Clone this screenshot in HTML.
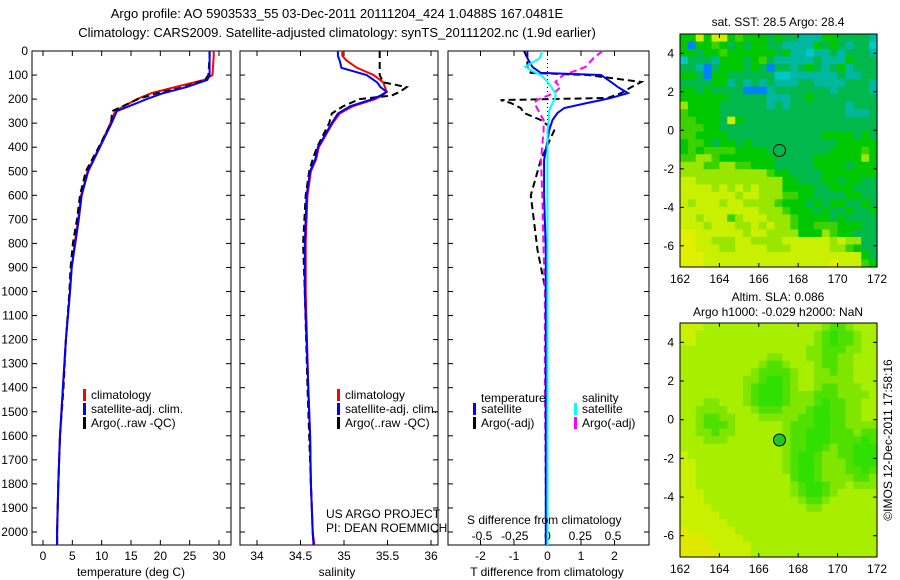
<!DOCTYPE html>
<html><head><meta charset="utf-8"><style>
body{margin:0;background:#fff}
svg{display:block;font-family:"Liberation Sans",sans-serif;font-size:12px}
</style></head><body>
<svg id="c" width="900" height="580" xmlns="http://www.w3.org/2000/svg">
<text x="337" y="18" text-anchor="middle" font-size="13">Argo profile: AO 5903533_55 03-Dec-2011 20111204_424 1.0488S 167.0481E</text>
<text x="337" y="37" text-anchor="middle" font-size="13">Climatology: CARS2009. Satellite-adjusted climatology: synTS_20111202.nc (1.9d earlier)</text>
<g id="g"></g>
</svg>
<script>
// ---- data ----
const tDepth=[0,20,60,100,120,150,175,200,250,300,400,500,600,700,800,900,1000,1200,1400,1600,1800,2000,2054];
const tClim=[29.1,29.1,29.0,28.9,27.5,22.5,18.5,16,12.3,11.5,9.6,7.6,6.5,6.0,5.4,4.9,4.6,3.9,3.4,2.9,2.6,2.4,2.4];
const tSat=[28.4,28.4,28.4,28.4,28.0,24.5,20.5,17.7,12.6,11.7,9.7,7.7,6.6,6.1,5.5,4.9,4.6,3.9,3.4,2.9,2.6,2.4,2.4];
const tArgo=[28.4,28.4,28.3,28.2,27.6,24,19.5,16.2,11.8,11.6,9.5,7.3,6.3,5.8,5.1,4.7,4.5,3.9,3.5,2.9,2.6,2.4,2.4];
const sDepth=[0,20,40,70,100,130,150,170,185,200,230,260,300,350,400,450,500,600,800,1000,1400,1600,1800,2000,2054];
const sClim=[34.98,34.98,35.03,35.15,35.34,35.45,35.47,35.49,35.44,35.36,35.1,34.95,34.87,34.79,34.71,34.68,34.62,34.58,34.56,34.56,34.59,34.61,34.62,34.64,34.66];
const sSat=[34.93,34.93,34.95,34.97,35.26,35.38,35.42,35.49,35.42,35.33,35.07,34.93,34.86,34.78,34.7,34.67,34.61,34.57,34.55,34.55,34.59,34.61,34.62,34.64,34.65];
const sArgo=[35.41,35.41,35.41,35.41,35.41,35.45,35.72,35.64,35.55,35.18,34.99,34.86,34.83,34.76,34.69,34.64,34.6,34.56,34.53,34.55,34.58,34.6,34.62,34.64,34.65];
const dDepth=[0,30,66,91,100,129,150,175,195,204,216,237,258,287,330,453,600,827,1000,1400,2054];
const dTSat=[-0.6,-0.6,-0.45,-0.2,1.6,1.9,2.1,2.4,1.9,1.6,1.2,0.5,0.3,0.15,0.05,-0.1,-0.1,-0.05,-0.05,-0.05,-0.05];
const dTArgo=[-0.7,-0.6,-0.6,-0.5,1.2,2.8,2.5,2.2,1.8,-1.4,-1.1,-0.8,-0.7,-0.2,0.2,-0.2,-0.5,-0.3,-0.05,0.0,0.0];
const dSSat=[-0.04,-0.06,-0.17,-0.09,-0.05,0.0,0.03,0.06,0.06,0.05,0.04,0.02,0.01,0.01,0.0,0.0,0.0,0.0,0.0,0.0,0.0];
const dSArgo=[0.42,0.35,0.29,0.17,0.12,0.06,0.1,0.05,-0.04,-0.08,-0.1,-0.08,-0.06,-0.03,-0.03,-0.05,-0.04,-0.03,-0.02,-0.02,-0.01];
const depthTicks=[0,100,200,300,400,500,600,700,800,900,1000,1100,1200,1300,1400,1500,1600,1700,1800,1900,2000];
const tTicks=[0,5,10,15,20,25,30];
const sTicks=[34,34.5,35,35.5,36];
const sTickLabels=["34","34.5","35","35.5","36"];
const dTTicks=[-2,-1,0,1,2];
const dSTicks=[-0.5,-0.25,0,0.25,0.5];
const dSTickLabels=["-0.5","-0.25","0","0.25","0.5"];
const lonTicks=[162,164,166,168,170,172];
const latTicks=[4,2,0,-2,-4,-6];
const sstGrid=["5585885655545443335544443","5155654545544333354543442","5545565555554533233434443","2444355545643333343335444","4431455545414434543453444","5541554444442233333343344","4444553434343334433334443","5545444411134444444344443","5555554444433344544444444","7555544444434344444443444","6555544444444444444443334","6655548544444444444444444","6665544444444444444444444","6655554444444444445555454","5665455454444444444455555","5656666555544444444555565","6677655555554444455555575","7776677665554444455554555","7777777777765544445555555","8877777777777554445545544","8888787878777555544555444","8888888788777665544445544","8788878877776555454554454","8888888888777655545445445","8878886788877765555454444","8887888778787765566655544","9988888878877775557655444","9988777887777888888787744","9988877888877788888776544","9998888888888888888888854","9998888888888888888988865"];
const slaGrid=["8887777777777777776556777","8877777777777777765455677","8877777777777777765455677","7777777777777777665556677","7777777777766777665566777","7777777777655677765566777","7777777776555567766566777","7777777766544567766666777","7777777765444567765566677","7777777765444566655566667","7776677765444566654556677","7766667776555666544556677","7765566777666665544556677","7765556777777655544556666","7766566777777655444555655","7776667777777655444555545","7777777777777655445655444","8777777777777654456655444","8877777777777654456665444","8877777777777654456665545","8877777777777754456666556","8877777777777765445667666","8887777777777765445677777","8887777777777776556777777","8888777777777777667777777","8888877777777777777777777","8888887777777777777777777","9888888777777777777777777","9998888877777777777777777","9999888887777777777777777","9999988887777777777777777"];
const argoLon=167.05, argoLat=-1.05;

// ---- helpers ----
const NS="http://www.w3.org/2000/svg";const G=document.getElementById('g');
function mk(t,a,p){const e=document.createElementNS(NS,t);for(const k in a)e.setAttribute(k,a[k]);(p||G).appendChild(e);return e;}
const Y0=51,Y1=545,DMAX=(Y1-Y0)/0.2405;
const yD=d=>Y0+d*(Y1-Y0)/DMAX;
const xT=v=>43+v*(219-43)/30;
const xS=v=>257+(v-34)*87;
const xDT=v=>547.5+v*33.5;
const xDS=v=>547.5+v*131;
const panels=[[32,231],[240,438],[448,649]];

panels.forEach((p,i)=>{
 const r=mk('rect',{x:p[0],y:Y0,width:p[1]-p[0],height:Y1-Y0,fill:'#fff',stroke:'#000','stroke-width':1});
 
 
 depthTicks.forEach(d=>{
  mk('line',{x1:p[0],x2:p[0]+5,y1:yD(d),y2:yD(d),stroke:'#000'});
  mk('line',{x1:p[1],x2:p[1]-5,y1:yD(d),y2:yD(d),stroke:'#000'});
 });
});
depthTicks.forEach(d=>{
 const t=mk('text',{x:28,y:yD(d)+4,'text-anchor':'end'});t.textContent=d;
 
 
});
function xticks(arr,fx,labels,y,top,bottom){arr.forEach((v,i)=>{const x=fx(v);
 if(top)mk('line',{x1:x,x2:x,y1:Y0,y2:Y0+5,stroke:'#000'});
 if(bottom)mk('line',{x1:x,x2:x,y1:Y1,y2:Y1-5,stroke:'#000'});
 const t=mk('text',{x:x,y:y,'text-anchor':'middle'});t.textContent=labels?labels[i]:v;
 
 });}
xticks(tTicks,xT,null,560,true,true);
xticks(sTicks,xS,sTickLabels,560,true,true);
xticks(dTTicks,xDT,null,560,true,true);
xticks(dSTicks,xDS,dSTickLabels,540,false,false);
mk('line',{x1:xDT(0),x2:xDT(0),y1:Y0,y2:Y1,stroke:'#000','stroke-dasharray':'1,3'});

function line(xs,ds,fx,col,dash,name){
 const pts=xs.map((v,i)=>fx(v).toFixed(1)+','+yD(ds[i]).toFixed(1)).join(' ');
 const a={points:pts,fill:'none',stroke:col,'stroke-width':2};if(dash)a['stroke-dasharray']=dash;
 const e=mk('polyline',a);
 
 
}
line(tClim,tDepth,xT,'#f00',null,'temp-climatology-line');
line(tArgo,tDepth,xT,'#000','7,4','temp-argo-line');
line(tSat,tDepth,xT,'#00f',null,'temp-satellite-line');
line(sClim,sDepth,xS,'#f00',null,'sal-climatology-line');
line(sArgo,sDepth,xS,'#000','7,4','sal-argo-line');
line(sSat,sDepth,xS,'#00f',null,'sal-satellite-line');
line(dTArgo,dDepth,xDT,'#000','7,4','tdiff-argo-line');
line(dSArgo,dDepth,xDS,'#f0f','7,4','sdiff-argo-line');
line(dTSat,dDepth,xDT,'#00f',null,'tdiff-satellite-line');
line(dSSat,dDepth,xDS,'#0ff',null,'sdiff-satellite-line');

function leg(x,y,col,txt,name){
 mk('rect',{x:x,y:y-9,width:3,height:12,fill:col});
 const t=mk('text',{x:x+8,y:y+1});t.textContent=txt;
 
 
}
leg(83,398,'#f00','climatology','legend-climatology');
leg(83,412,'#00f','satellite-adj. clim.','legend-satellite');
leg(83,426,'#000','Argo(..raw -QC)','legend-argo');
leg(337,398,'#f00','climatology','legend-climatology-2');
leg(337,412,'#00f','satellite-adj. clim.','legend-satellite-2');
leg(337,426,'#000','Argo(..raw -QC)','legend-argo-2');
function txt(x,y,s,name,anchor,extra){const t=mk('text',Object.assign({x:x,y:y,'text-anchor':anchor||'start'},extra||{}));t.textContent=s;
 
 return t;}
txt(481,402,'temperature','legend-temperature-heading');
txt(582,402,'salinity','legend-salinity-heading');
leg(473,412,'#00f','satellite','legend-t-satellite');
leg(473,426,'#000','Argo(-adj)','legend-t-argo');
leg(574,412,'#0ff','satellite','legend-s-satellite');
leg(574,426,'#f0f','Argo(-adj)','legend-s-argo');
txt(326,518,'US ARGO PROJECT','credit-project');
txt(326,532,'PI: DEAN ROEMMICH','credit-pi');
txt(467,524,'S difference from climatology','sdiff-axis-title');
txt(131,576,'temperature (deg C)','temp-axis-title','middle');
txt(337,576,'salinity','sal-axis-title','middle');
txt(547,576,'T difference from climatology','tdiff-axis-title','middle');

// ---- maps ----
const sstCol=['#0000a0','#0080ff','#00c8c8','#00b8a0','#00b84c','#00c800','#3cd200','#99e600','#c8f000','#e0f000'];
const slaCol=['#00c000','#10c800','#20d800','#30dc00','#30e000','#50e000','#80e600','#a8ee00','#c8f000','#e0e800'];
function map(x0,x1,ytop,ybot,grid,cols,name,fill){
 const lonX=v=>x0+(v-162)*(x1-x0)/10;
 const latY=v=>ytop+(5-v)*(ybot-ytop)/12.1;
 const nr=grid.length,nc=grid[0].length;
 const cw=(x1-x0)/nc,ch=(ybot-ytop)/nr;
 for(let r=0;r<nr;r++)for(let c=0;c<nc;c++){
  const e=mk('rect',{x:(x0+c*cw).toFixed(2),y:(ytop+r*ch).toFixed(2),width:(cw+0.6).toFixed(2),height:(ch+0.6).toFixed(2),fill:cols[+grid[r][c]]});
  
  
 }
 const b=mk('rect',{x:x0,y:ytop,width:x1-x0,height:ybot-ytop,fill:'none',stroke:'#000'});
 
 
 lonTicks.forEach(v=>{const x=lonX(v);mk('line',{x1:x,x2:x,y1:ybot,y2:ybot-4,stroke:'#000'});mk('line',{x1:x,x2:x,y1:ytop,y2:ytop+4,stroke:'#000'});
  txt(x,ybot+16,v,'lon-tick-label','middle');});
 latTicks.forEach(v=>{const y=latY(v);mk('line',{x1:x0,x2:x0+4,y1:y,y2:y,stroke:'#000'});mk('line',{x1:x1,x2:x1-4,y1:y,y2:y,stroke:'#000'});
  txt(x0-6,y+4,v,'lat-tick-label','end');});
 const c=mk('circle',{cx:lonX(argoLon),cy:latY(argoLat),r:6,fill:fill,stroke:'#000'});
 
 
}
map(680,877,34,267,sstGrid,sstCol,'sst-map','none');
map(680,877,323,557,slaGrid,slaCol,'sla-map','#22c822');
txt(778,26,'sat. SST: 28.5 Argo: 28.4','sst-map-title','middle');
txt(778,301,'Altim. SLA: 0.086','sla-map-title','middle');
txt(778,316,'Argo h1000: -0.029 h2000: NaN','sla-map-subtitle','middle');
txt(0,0,'©IMOS 12-Dec-2011 17:58:16','imos-stamp','middle',{transform:'translate(892,440) rotate(-90)'});
</script>
</body></html>
